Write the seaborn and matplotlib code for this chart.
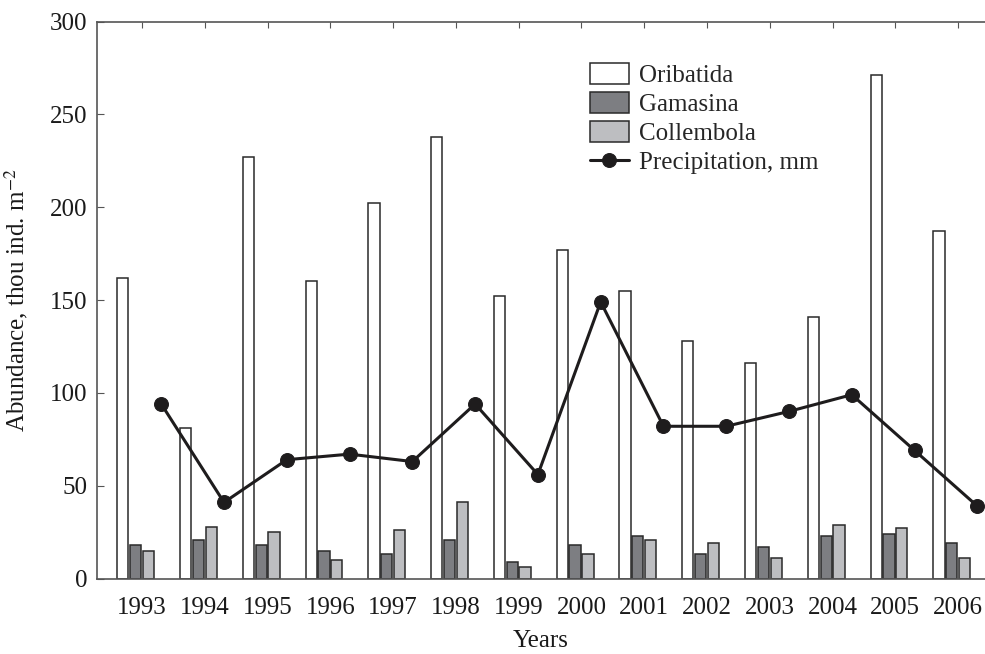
import numpy as np
import pandas as pd
import matplotlib
matplotlib.use("Agg")
import matplotlib.pyplot as plt
import seaborn as sns

years = ["1993", "1994", "1995", "1996", "1997", "1998", "1999",
         "2000", "2001", "2002", "2003", "2004", "2005", "2006"]
oribatida = [162, 81, 227, 160, 202, 238, 152, 177, 155, 128, 116, 141, 271, 187]
gamasina = [18, 21, 18, 15, 13, 21, 9, 18, 23, 13, 17, 23, 24, 19]
collembola = [15, 28, 25, 10, 26, 41, 6, 13, 21, 19, 11, 29, 27, 11]
precipitation = [94, 41, 64, 67, 63, 94, 56, 149, 82, 82, 90, 99, 69, 39]

groups = ["Oribatida", "Gamasina", "Collembola"]
colors = {"Oribatida": "#ffffff", "Gamasina": "#7d7e82", "Collembola": "#bdbec1"}

df = pd.DataFrame({
    "year": years * 3,
    "group": np.repeat(groups, len(years)),
    "value": oribatida + gamasina + collembola,
})

sns.set_style("ticks")
plt.rcParams["font.family"] = ["Liberation Serif", "DejaVu Serif"]
plt.rcParams["mathtext.fontset"] = "stix"
fs = 18
plt.rcParams["font.size"] = fs

fig = plt.figure(figsize=(9.85, 6.54), dpi=100)
ax = fig.add_axes([0.0985, 0.1154, 0.9015, 0.8517])

# slot pitch of one bar within a year group (4 slots: 3 bars + the rain point)
s = 0.204

sns.barplot(data=df, x="year", y="value", hue="group", hue_order=groups,
            palette=colors, saturation=1, width=3 * s, gap=0.12,
            edgecolor="#2a2a2a", linewidth=1.1, errorbar=None, ax=ax)

xpos = np.arange(len(years))
sns.lineplot(x=xpos + 2 * s, y=precipitation, color="#1e1c1d", lw=2.2,
             marker="o", markersize=10, markeredgecolor="#1e1c1d",
             label="Precipitation, mm", ax=ax)

ax.set_xticks(xpos + 0.5 * s, labels=years)
ax.set_xlim(-0.615, 13.53)
ax.set_ylim(0, 300)
ax.set_yticks(range(0, 301, 50))

ax.tick_params(axis="x", bottom=False, top=True, labelbottom=True,
               direction="in", length=4, pad=13, colors="#555555",
               labelcolor="#1a1a1a", labelsize=fs)
ax.tick_params(axis="y", right=False, direction="in", length=5, pad=7,
               colors="#555555", labelcolor="#1a1a1a", labelsize=fs)

ax.spines["right"].set_visible(False)
for sp in ["left", "top", "bottom"]:
    ax.spines[sp].set_color("#555555")
    ax.spines[sp].set_linewidth(1.2)

ax.set_xlabel("Years", fontsize=fs, color="#1a1a1a")
ax.set_ylabel(r"Abundance, thou ind. m$^{-2}$", fontsize=fs, color="#1a1a1a")
ax.xaxis.set_label_coords(0.5, -0.093)
ax.yaxis.set_label_coords(-0.076, 0.5)

h, l = ax.get_legend_handles_labels()
ax.legend(h, l, loc="upper left", bbox_to_anchor=(0.555, 0.925),
          frameon=False, fontsize=fs, handlelength=1.55, handleheight=0.9,
          labelspacing=0.2, handletextpad=0.4, borderpad=0, borderaxespad=0)

fig.savefig("out.png", dpi=100)
